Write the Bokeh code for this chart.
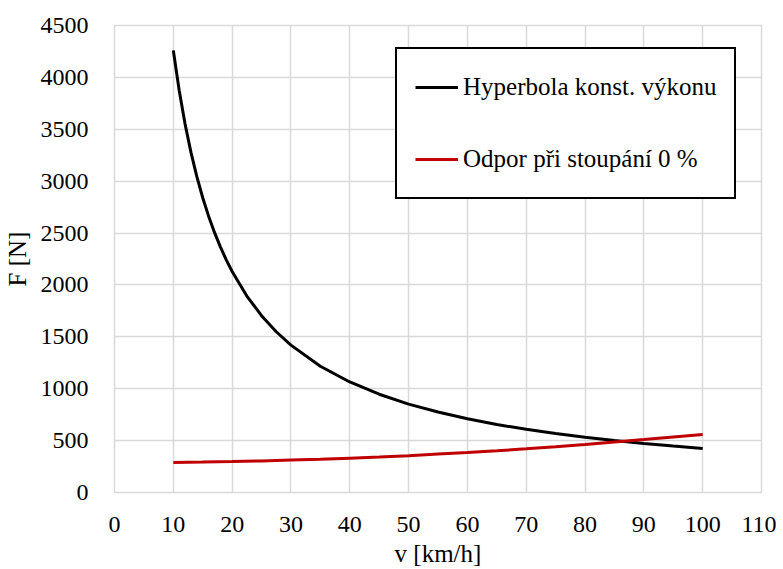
from bokeh.plotting import figure
from bokeh.models import Range1d, FixedTicker, Legend, LegendItem
from bokeh.embed import file_html
from bokeh.resources import INLINE

# Hyperbola of constant power
v_hyp = [10, 11, 12, 13, 14, 15, 16, 17, 18, 19, 20, 22.5, 25, 27.5, 30, 35, 40, 45,
         50, 55, 60, 65, 70, 75, 80, 85, 90, 95, 100]
f_hyp = [4260, 3873, 3550, 3277, 3043, 2840, 2663, 2506, 2367, 2242, 2130, 1893, 1704,
         1549, 1420, 1217, 1065, 947, 852, 775, 710, 655, 609, 568, 533, 501, 473, 448, 424]

# Resistance at 0 % gradient
v_res = [10, 15, 20, 25, 30, 35, 40, 45, 50, 55, 60, 65, 70, 75, 80, 85, 90, 95, 100]
f_res = [290, 293, 298, 304, 312, 320, 331, 342, 355, 370, 385, 402, 421, 441, 462, 486,
         510, 535, 560]

x_ticks = [0, 10, 20, 30, 40, 50, 60, 70, 80, 90, 100, 110]
y_ticks = [0, 500, 1000, 1500, 2000, 2500, 3000, 3500, 4000, 4500]

label_hyp = "Hyperbola konst. výkonu"
label_res = "Odpor při stoupání 0 %"
x_title = "v [km/h]"
y_title = "F [N]"

FONT = "Liberation Serif"
FS = "25px"
TICK_FS = "24px"
GRID = "#d9d9d9"

p = figure(width=776, height=569, output_backend="svg", toolbar_location=None,
           x_range=Range1d(0, 110), y_range=Range1d(0, 4500))
p.min_border_left = 110
p.min_border_right = 15
p.min_border_top = 25
p.min_border_bottom = 70
p.outline_line_color = GRID
p.outline_line_width = 1.5

r1 = p.line(v_hyp, f_hyp, line_color="black", line_width=3)
r2 = p.line(v_res, f_res, line_color="#c00000", line_width=3)

for ax, ticks in ((p.xaxis[0], x_ticks), (p.yaxis[0], y_ticks)):
    ax.ticker = FixedTicker(ticks=ticks)
    ax.axis_line_color = GRID
    ax.major_tick_line_color = None
    ax.minor_tick_line_color = None
    ax.major_label_text_font = FONT
    ax.major_label_text_font_size = TICK_FS
    ax.major_label_text_color = "black"
    ax.axis_label_text_font = FONT
    ax.axis_label_text_font_size = FS
    ax.axis_label_text_font_style = "normal"
    ax.axis_label_text_color = "black"

p.xaxis.axis_label = x_title
p.yaxis.axis_label = y_title
p.xaxis.major_label_standoff = 18
p.yaxis.major_label_standoff = 20
p.xaxis.axis_label_standoff = 5
p.yaxis.axis_label_standoff = 7

p.xgrid.ticker = FixedTicker(ticks=x_ticks)
p.ygrid.ticker = FixedTicker(ticks=y_ticks)
p.xgrid.grid_line_color = GRID
p.ygrid.grid_line_color = GRID
p.xgrid.grid_line_width = 1.5
p.ygrid.grid_line_width = 1.5

legend = Legend(items=[LegendItem(label=label_hyp, renderers=[r1]),
                       LegendItem(label=label_res, renderers=[r2])],
                location=(281, 293))
legend.label_text_font = FONT
legend.label_text_font_size = FS
legend.label_text_color = "black"
legend.glyph_width = 43
legend.glyph_height = 40
legend.label_height = 40
legend.label_standoff = 5
legend.padding = 18
legend.spacing = 32
legend.margin = 0
legend.border_line_color = "black"
legend.border_line_alpha = 1
legend.border_line_width = 2
legend.background_fill_color = "white"
legend.background_fill_alpha = 1
p.add_layout(legend)

open("out.html", "w").write(file_html(p, INLINE))
